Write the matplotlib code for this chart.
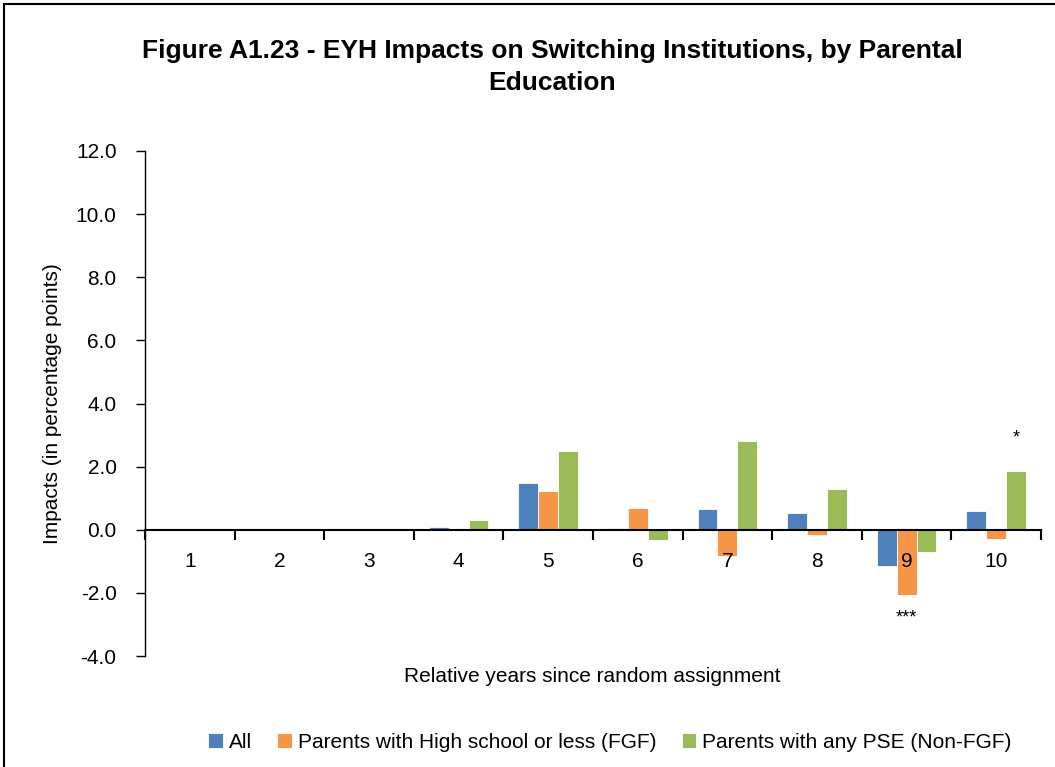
import numpy as np
import matplotlib
matplotlib.use("Agg")
import matplotlib.pyplot as plt
from matplotlib.patches import Rectangle

plt.rcParams['font.family'] = ['Liberation Sans Narrow', 'Liberation Sans', 'DejaVu Sans']

# data
years = ['1', '2', '3', '4', '5', '6', '7', '8', '9', '10']
all_vals = [0.0, 0.0, 0.0, 0.09, 1.49, 0.05, 0.67, 0.52, -1.16, 0.58]
fgf_vals = [0.0, 0.0, 0.0, 0.0, 1.24, 0.69, -0.82, -0.18, -2.07, -0.30]
nonfgf_vals = [0.0, 0.0, 0.0, 0.32, 2.50, -0.32, 2.82, 1.30, -0.70, 1.85]
series_names = ['All', 'Parents with High school or less (FGF)', 'Parents with any PSE (Non-FGF)']
colors = ['#4F81BD', '#F79646', '#9BBB59']
stars = [(8, fgf_vals[8], '***', 'below'), (9, nonfgf_vals[9], '*', 'above')]

fig = plt.figure(figsize=(10.55, 7.67), dpi=100)
ax = fig.add_axes([145 / 1055, 1 - 656 / 767, (1041 - 145) / 1055, (656 - 151) / 767])

# outer chart border
fig.patches.append(Rectangle((4 / 1055, -0.01), 1.02, 1 - 4 / 767 + 0.01,
                             transform=fig.transFigure, fill=False,
                             edgecolor='black', linewidth=1.5))

x = np.arange(len(years))
w = 1 / 4.5
offsets = [-w, 0, w]
for vals, off, c, name in zip([all_vals, fgf_vals, nonfgf_vals], offsets, colors, series_names):
    ax.bar(x + off, vals, width=w, color=c, edgecolor='white', linewidth=0.6, label=name)

ax.set_xlim(-0.5, len(years) - 0.5)
ax.set_ylim(-4, 12)
ax.set_yticks(np.arange(-4, 12.1, 2))
ax.set_yticklabels([f'{v:.1f}' for v in np.arange(-4, 12.1, 2)], fontsize=15)

# category axis crosses at zero, ticks between categories
ax.spines['bottom'].set_position(('data', 0))
ax.spines['bottom'].set_linewidth(1.5)
ax.spines['left'].set_linewidth(1.0)
ax.spines['top'].set_visible(False)
ax.spines['right'].set_visible(False)
ax.set_xticks(np.arange(-0.5, len(years), 1.0))
ax.set_xticklabels([])
ax.tick_params(axis='x', length=7, width=1.5, direction='out')
ax.tick_params(axis='y', length=6.5, width=1.0, direction='out', pad=14)
for i, lab in enumerate(years):
    ax.text(i, -0.72, lab, ha='center', va='top', fontsize=15)

for i, v, s, pos in stars:
    if pos == 'above':
        ax.text(i + w, v + 1.05, s, ha='center', va='center', fontsize=13)
    else:
        ax.text(i, v - 0.72, s, ha='center', va='center', fontsize=13)

ax.set_ylabel('Impacts (in percentage points)', fontsize=15, labelpad=10)
fig.text(592 / 1055, 1 - 676 / 767, 'Relative years since random assignment',
         ha='center', va='center', fontsize=15)

fig.text(552 / 1055, 1 - 67 / 767,
         'Figure A1.23 - EYH Impacts on Switching Institutions, by Parental\nEducation',
         ha='center', va='center', fontsize=19, fontweight='bold', linespacing=1.4)

fig.legend(loc='center', bbox_to_anchor=(610 / 1055, 1 - 742 / 767), ncol=3,
           frameon=False, fontsize=15, handlelength=0.7, handleheight=0.7,
           handletextpad=0.3, columnspacing=1.2)

fig.savefig('out.png', dpi=100)
